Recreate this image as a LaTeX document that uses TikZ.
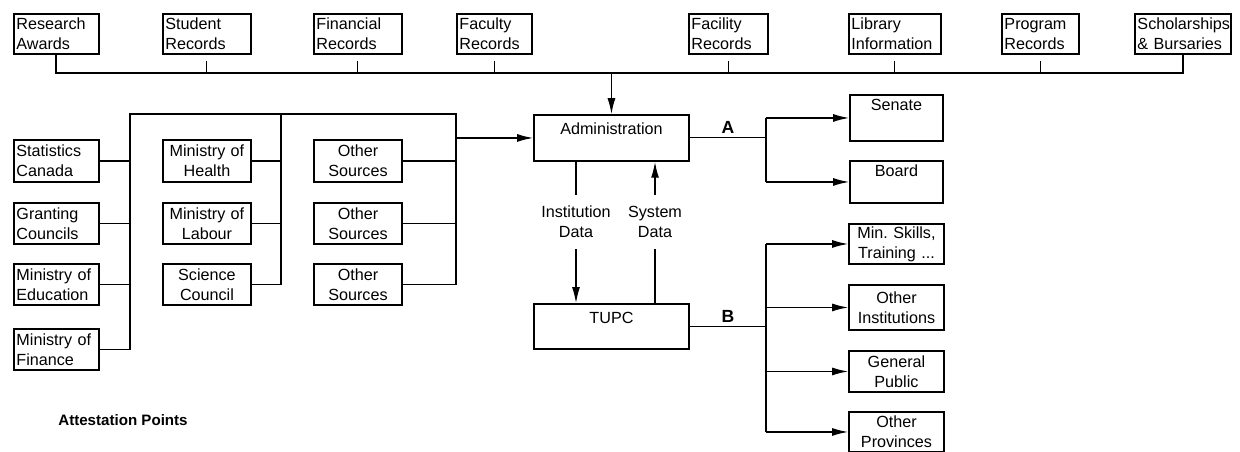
\documentclass[tikz,border=0pt]{standalone}
\usepackage{fontspec}
\setmainfont{Liberation Sans}
\usetikzlibrary{arrows.meta}
\frenchspacing

\begin{document}
\begin{tikzpicture}[x=0.02cm,y=-0.02cm,
    box/.style={draw,line width=1.1pt,anchor=north west,inner xsep=0.05cm,inner ysep=0pt,
      font=\fontsize{9.2}{11.4}\selectfont},
    lbox/.style={box,align=left},
    cbox/.style={box,align=center},
    bus/.style={line width=1.1pt},
    wire/.style={line width=0.6pt},
    arr/.style={line width=0.7pt,-{Latex[length=9pt,width=4.5pt]}},
    lab/.style={above,inner sep=2pt,font=\bfseries\fontsize{10}{12}\selectfont},
    dlab/.style={align=center,inner xsep=0pt,inner ysep=0.22cm,font=\fontsize{9.2}{11.4}\selectfont}]
    \useasboundingbox (0,0) rectangle (1240,451);

    % record sources along the top
    \node[lbox,text width=1.60cm,minimum height=0.8cm] (ra) at (13,13) {Research\\Awards};
    \node[lbox,text width=1.66cm,minimum height=0.8cm] (sr) at (162,13) {Student\\Records};
    \node[lbox,text width=1.66cm,minimum height=0.8cm] (fr) at (313,13) {Financial\\Records};
    \node[lbox,text width=1.40cm,minimum height=0.8cm] (fa) at (456,13) {Faculty\\Records};
    \node[lbox,text width=1.48cm,minimum height=0.8cm] (fc) at (688,13) {Facility\\Records};
    \node[lbox,text width=1.74cm,minimum height=0.8cm] (li) at (848,13) {Library\\Information};
    \node[lbox,text width=1.44cm,minimum height=0.8cm] (pr) at (1001,13) {Program\\Records};
    \node[lbox,text width=1.82cm,minimum height=0.8cm] (sb) at (1134,13) {Scholarships\\\& Bursaries};

    % outside agencies
    \node[lbox,text width=1.6cm,minimum height=0.84cm] (stc) at (13,139) {Statistics\\Canada};
    \node[lbox,text width=1.6cm,minimum height=0.82cm] (gc) at (13,202) {Granting\\Councils};
    \node[lbox,text width=1.6cm,minimum height=0.82cm] (med) at (13,263) {Ministry of\\Education};
    \node[lbox,text width=1.6cm,minimum height=0.82cm] (mfi) at (13,328) {Ministry of\\Finance};

    \node[cbox,text width=1.66cm,minimum height=0.84cm] (mhe) at (162,139) {Ministry of\\Health};
    \node[cbox,text width=1.66cm,minimum height=0.82cm] (mla) at (162,202) {Ministry of\\Labour};
    \node[cbox,text width=1.66cm,minimum height=0.82cm] (scc) at (162,263) {Science\\Council};

    \node[cbox,text width=1.66cm,minimum height=0.84cm] (os1) at (313,139) {Other\\Sources};
    \node[cbox,text width=1.66cm,minimum height=0.82cm] (os2) at (313,202) {Other\\Sources};
    \node[cbox,text width=1.66cm,minimum height=0.82cm] (os3) at (313,263) {Other\\Sources};

    % centre
    \node[box,minimum width=3.1cm,inner ysep=0.16cm,text height=0.23cm,text depth=0.37cm] (adm) at (533,114) {Administration};
    \node[box,minimum width=3.1cm,inner ysep=0.16cm,text height=0.23cm,text depth=0.35cm] (tup) at (533,303) {TUPC};

    % recipients
    \node[box,minimum width=1.86cm,inner ysep=0.08cm,text height=0.23cm,text depth=0.53cm] (sen) at (849,94) {Senate};
    \node[box,minimum width=1.86cm,inner ysep=0.08cm,text height=0.23cm,text depth=0.45cm] (brd) at (849,160) {Board};
    \node[cbox,text width=1.8cm,minimum height=0.8cm] (msk) at (848,223) {Min. Skills,\\Training ...};
    \node[cbox,text width=1.8cm,minimum height=0.9cm] (oin) at (848,284) {Other\\Institutions};
    \node[cbox,text width=1.8cm,minimum height=0.82cm] (gpu) at (848,350) {General\\Public};
    \node[cbox,text width=1.8cm,minimum height=0.8cm] (opr) at (848,411) {Other\\Provinces};

    \node[anchor=west,inner sep=0pt,font=\bfseries\fontsize{8.6}{10}\selectfont] (att) at (58,420) {Attestation Points};

    % top bus
    \coordinate (bus) at (0,73);
    \draw[bus] (ra.south) |- (bus -| sb.south) -- (sb.south);
    \foreach \n in {sr,fr,fa,fc,li,pr}
      \draw[wire] ([yshift=-0.12cm]\n.south) -- ([yshift=-0.38cm]\n.south);
    \draw[arr] (bus -| adm.north) -- (adm.north);

    % agencies into administration
    \coordinate (t1) at (130,114);
    \coordinate (t2) at (281,114);
    \coordinate (t3) at (456,114);
    \draw[bus] (mfi.east) -| (t1) -- (t3) |- (os3.east);
    \foreach \n in {stc,gc,med} \draw[bus] (\n.east) -- (\n.east -| t1);
    \draw[bus] (t2) |- (scc.east);
    \foreach \n in {mhe,mla} \draw[bus] (\n.east) -- (\n.east -| t2);
    \foreach \n in {os1,os2} \draw[bus] (\n.east) -- (\n.east -| t3);
    \draw[arr] (adm.west -| t3) -- (adm.west);

    % data exchange
    \node[dlab] (idat) at (576,222) {Institution\\Data};
    \node[dlab] (sdat) at (655,222) {System\\Data};
    \draw[wire] (adm.south -| idat) -- (idat.north);
    \draw[arr] (idat.south) -- (tup.north -| idat);
    \draw[wire] (tup.north -| sdat) -- (sdat.south);
    \draw[arr] (sdat.north) -- (adm.south -| sdat);

    % outputs A and B
    \coordinate (ja) at (766,0);
    \draw[wire] (adm.east) -- node[lab]{A} (adm.east -| ja);
    \draw[bus] (sen.west -| ja) -- (brd.west -| ja);
    \foreach \n in {sen,brd} \draw[arr] (\n.west -| ja) -- (\n.west);
    \draw[wire] (tup.east) -- node[lab]{B} (tup.east -| ja);
    \draw[bus] (msk.west -| ja) -- (opr.west -| ja);
    \foreach \n in {msk,oin,gpu,opr} \draw[arr] (\n.west -| ja) -- (\n.west);
\end{tikzpicture}
\end{document}
